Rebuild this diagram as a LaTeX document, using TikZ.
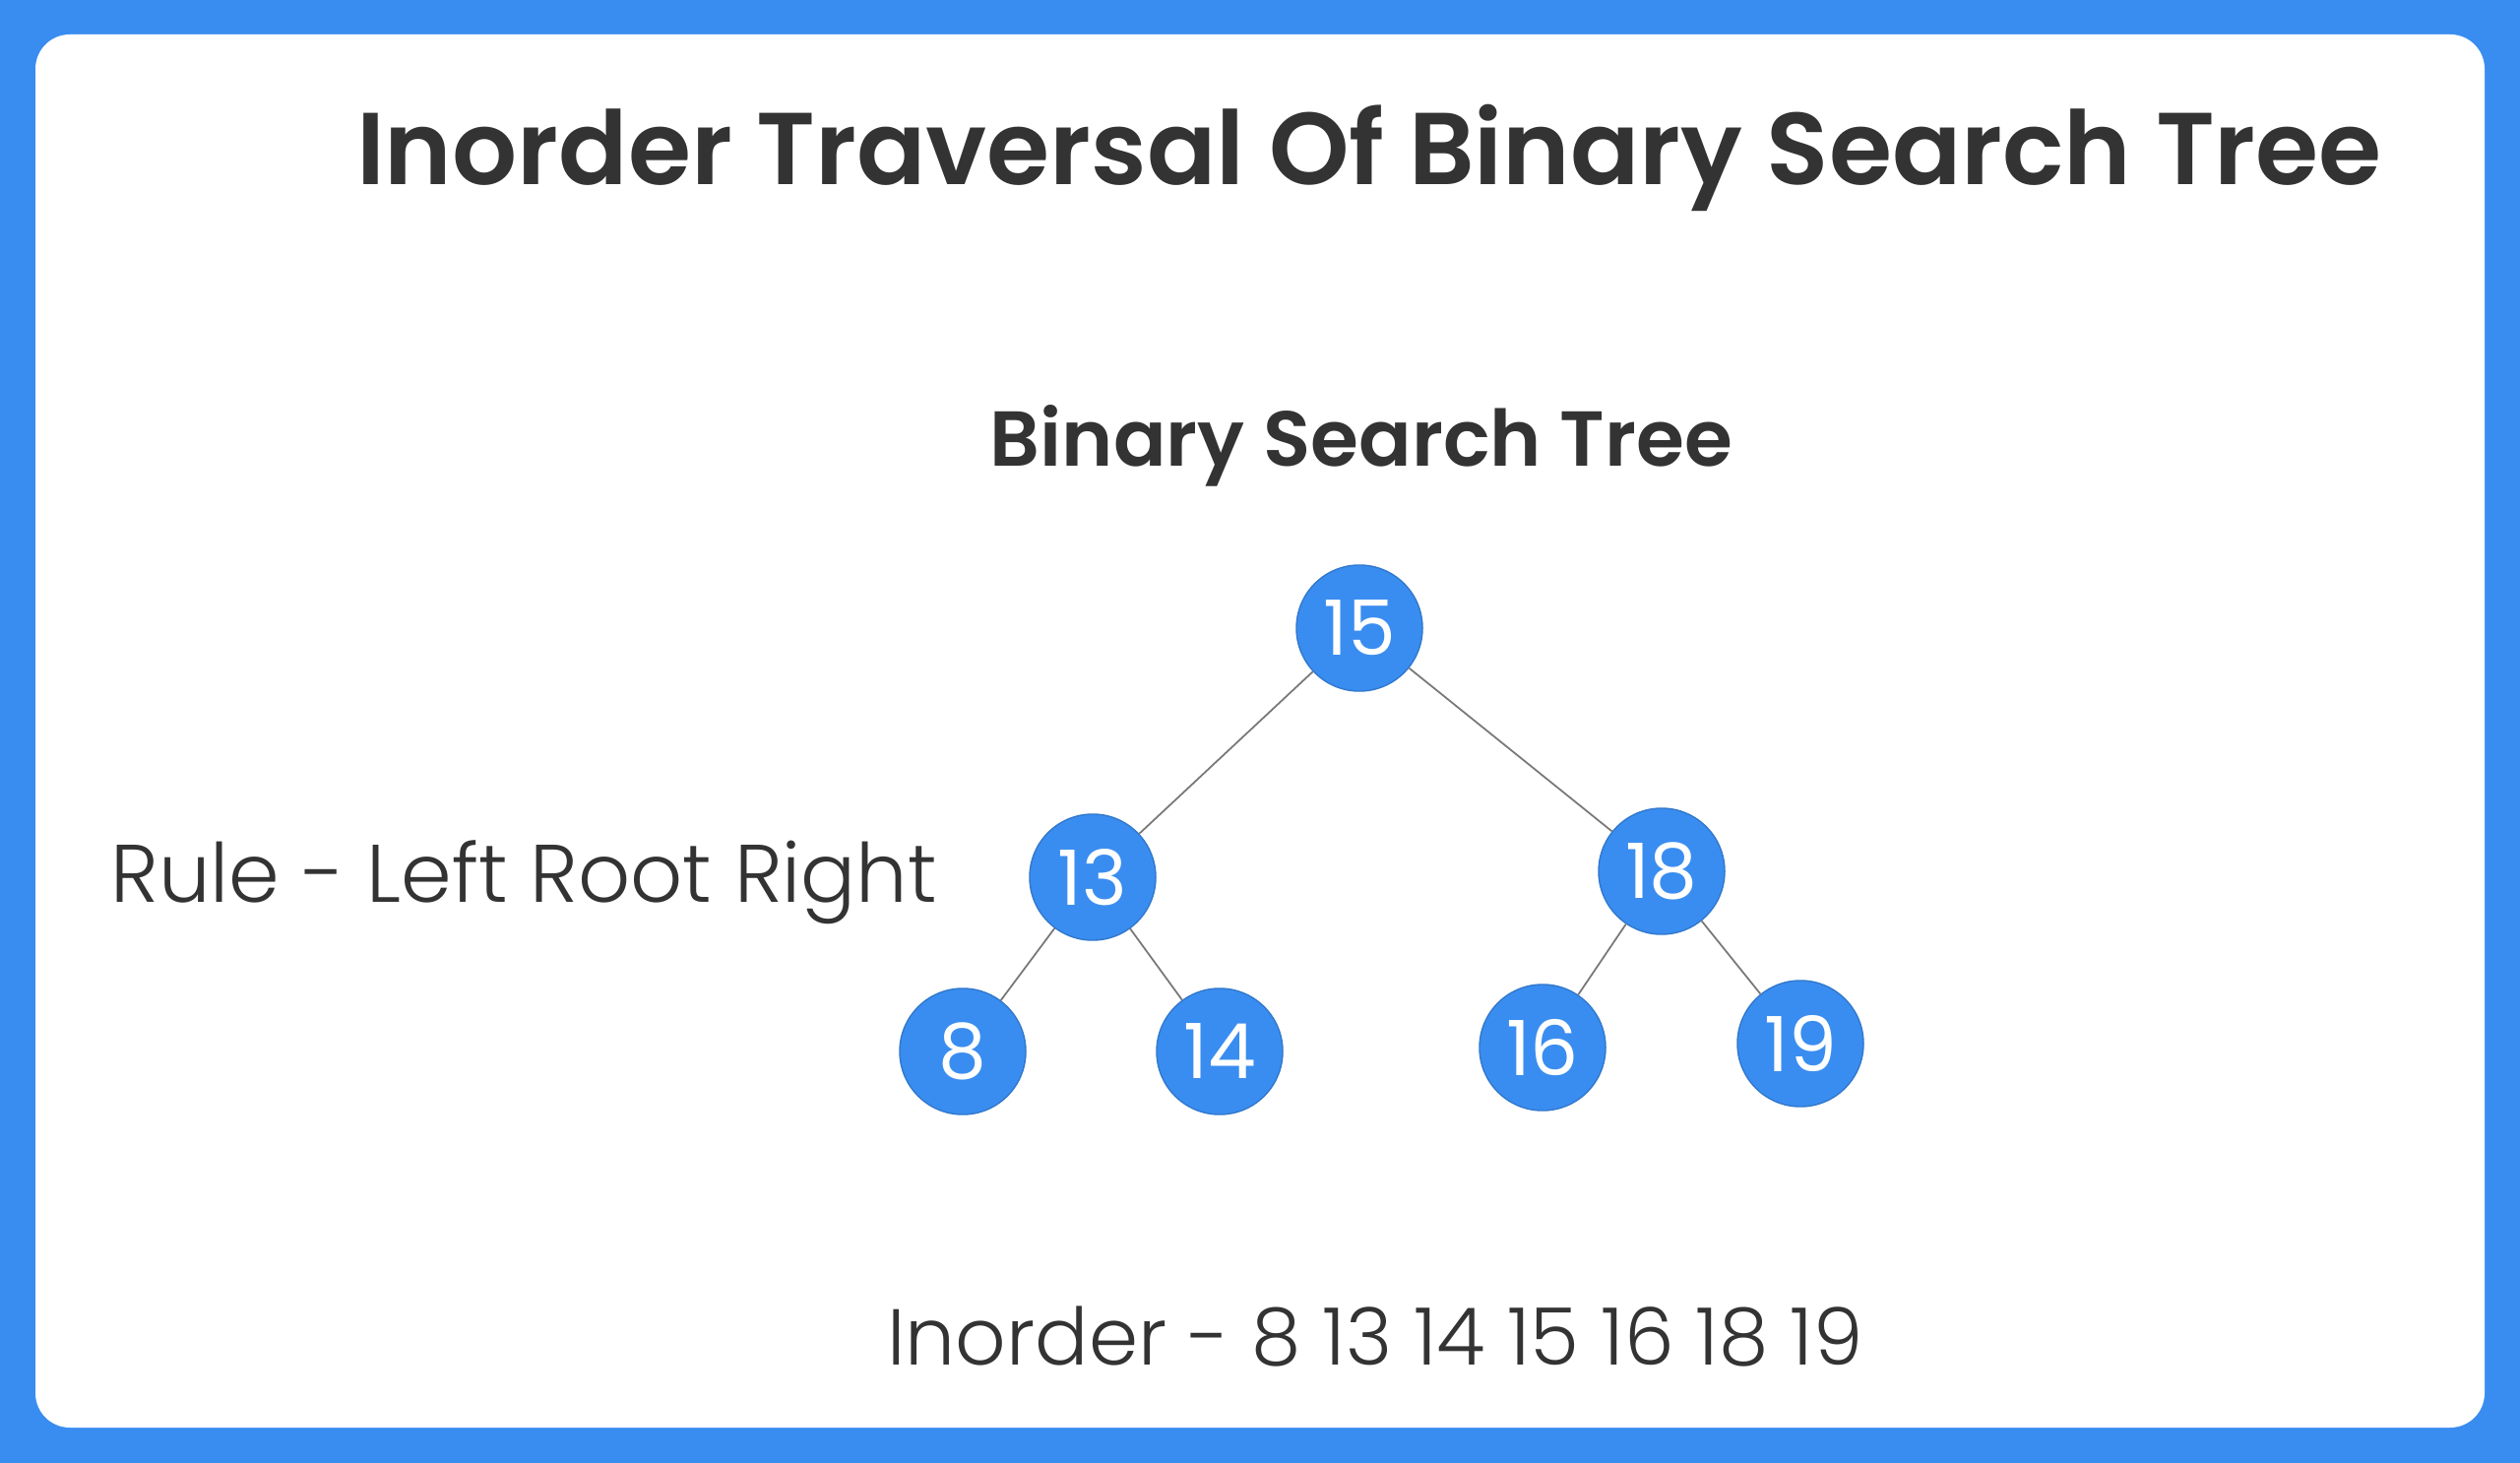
\documentclass[tikz,border=0pt]{standalone}
\usepackage{fontspec}
\setmainfont{Poppins}
\newfontfamily\thinfont{Poppins}[UprightFont=* Light]
\newfontfamily\semifont{Poppins}[UprightFont=* SemiBold]
\usetikzlibrary{positioning}
\definecolor{frameblue}{RGB}{58,141,240}
\definecolor{inkgray}{RGB}{51,51,51}
\definecolor{edgegray}{RGB}{120,120,120}

\tikzset{
  bstnode/.style={circle,fill=frameblue,draw=frameblue!85!black,line width=0.4pt,
    minimum size=1.28cm,inner sep=0pt,text=white,font=\fontsize{22}{24}\selectfont},
  bstedge/.style={edgegray,line width=0.5pt},
  heading/.style={text=inkgray,font=\semifont\fontsize{29.5}{32}\selectfont},
  plain/.style={text=inkgray,font=\thinfont\fontsize{23.6}{27}\selectfont}
}

\begin{document}
\begin{tikzpicture}[x=0.01cm,y=-0.01cm]
  % frame
  \fill[frameblue](0,0)rectangle(2560,1486);
  \fill[white,rounded corners=0.35cm](36,35)rectangle(2524,1450);
  \useasboundingbox(0,0)rectangle(2560,1486);

  \node[heading] (title) at (1391,160){Inorder Traversal Of Binary Search Tree};
  \node[heading,font=\semifont\fontsize{22.5}{25}\selectfont] (subtitle) at (1383,453){Binary Search Tree};

  % tree
  \node[bstnode] (n15) at (1381,638){15};
  \node[bstnode] (n13) at (1110,891){13};
  \node[bstnode] (n18) at (1688,885){18};
  \node[bstnode] (n8)  at (978,1068){8};
  \node[bstnode] (n14) at (1239,1068){14};
  \node[bstnode] (n16) at (1567,1064){16};
  \node[bstnode] (n19) at (1829,1060){19};
  \draw[bstedge](n15)--(n13);\draw[bstedge](n15)--(n18);
  \draw[bstedge](n13)--(n8);\draw[bstedge](n13)--(n14);
  \draw[bstedge](n18)--(n16);\draw[bstedge](n18)--(n19);

  \node[plain,anchor=west] (rule) at (100,896){Rule - Left Root Right};
  \node[plain,font=\thinfont\fontsize{22.9}{26}\selectfont] (order) at (1397,1358){Inorder - 8 13 14 15 16 18 19};
\end{tikzpicture}
\end{document}
